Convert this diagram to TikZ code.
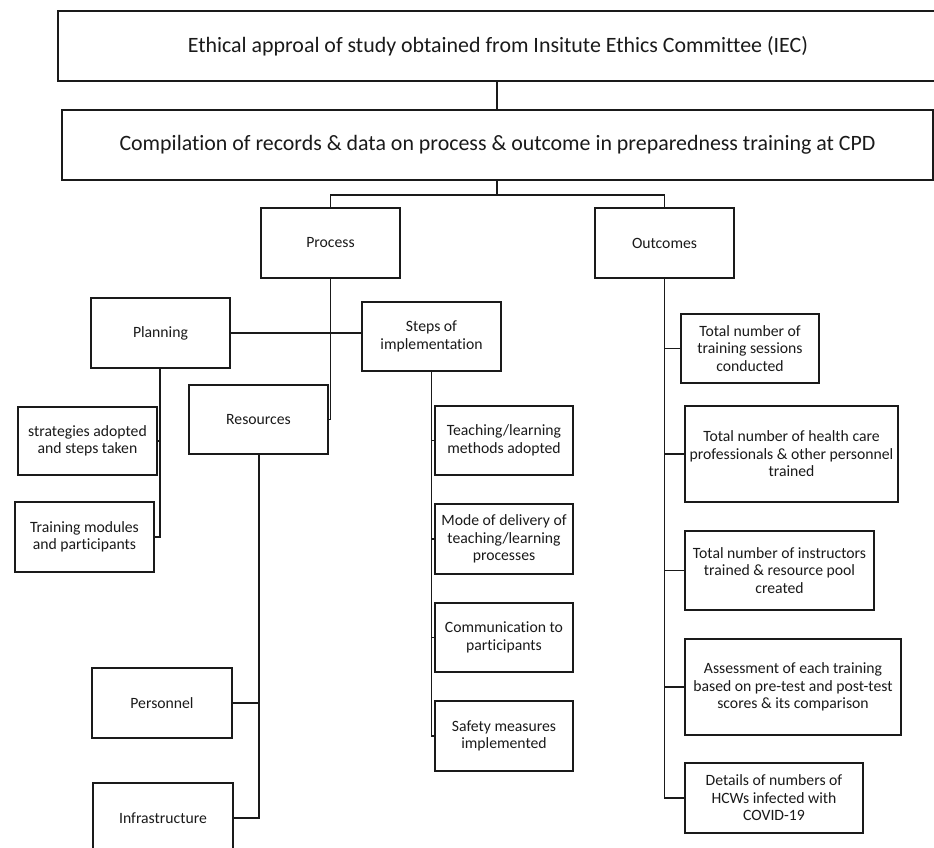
\documentclass[tikz,border=0pt]{standalone}
\usepackage{fontspec}
\setmainfont[Ligatures=NoCommon]{Carlito}
\definecolor{ink}{HTML}{1A1A1A}
\tikzset{
  box/.style={draw=ink, line width=1.7pt, inner sep=0pt, outer sep=0pt, align=center,
    text=ink, font=\fontsize{15.7}{17.5}\selectfont},
  bigbox/.style={box, font=\fontsize{21.9}{26}\selectfont},
  conn/.style={draw=ink, line width=1.4pt},
}
\newcommand\bx[7][box]{\node[#1, minimum width={(#5-#3)*1pt}, minimum height={(#6-#4)*1pt}] (#2) at ({(#3+#5)/2},{(#4+#6)/2}) {#7};}
\begin{document}
\begin{tikzpicture}[x=1pt,y=-1pt]
\useasboundingbox (0,0) rectangle (934,847);
\clip (0,0) rectangle (934,847);
\fill[white] (0,0) rectangle (934,847);
\bx[bigbox]{top}{58}{11}{942}{81}{}
\node[text=ink, font=\fontsize{21.9}{26}\selectfont] (toptext) at (498,46) {Ethical approal of study obtained from Insitute Ethics Committee (IEC)};
\bx[bigbox]{comp}{62}{110}{933}{180}{Compilation of records \& data on process \& outcome in preparedness training at CPD}
\bx{process}{261}{208}{400}{278}{Process}
\bx{outcomes}{595}{208}{734}{278}{Outcomes}
\bx{planning}{91}{298}{230}{368}{Planning}
\bx{steps}{362}{302}{501}{371}{Steps of\\implementation}
\bx{resources}{189}{385}{328}{454}{Resources}
\bx{strategies}{18}{407}{157}{475}{strategies adopted\\and steps taken}
\bx{modules}{15}{502}{154}{572}{Training modules\\and participants}
\bx{personnel}{92}{668}{232}{738}{Personnel}
\bx{infra}{93}{783}{233}{853}{Infrastructure}
\bx{teaching}{435}{406}{573}{475}{Teaching/learning\\methods adopted}
\bx{mode}{435}{504}{573}{574}{Mode of delivery of\\teaching/learning\\processes}
\bx{comm}{435}{603}{573}{672}{Communication to\\participants}
\bx{safety}{435}{701}{573}{771}{Safety measures\\implemented}
\bx{sessions}{681}{314}{819}{383}{Total number of\\training sessions\\conducted}
\bx{health}{685}{406}{898}{502}{Total number of health care\\professionals \& other personnel\\trained}
\bx{instr}{685}{531}{874}{610}{Total number of instructors\\trained \& resource pool\\created}
\bx{assess}{685}{639}{901}{735}{Assessment of each training\\based on pre-test and post-test\\scores \& its comparison}
\bx{details}{685}{763}{863}{833}{Details of numbers of\\HCWs infected with\\COVID-19}
% connectors
\coordinate (bus) at (497,195);
\draw[conn] (497,81) -- (497,110);
\draw[conn] (497,180) -- (bus);
\draw[conn] (bus) -| (process.north);
\draw[conn] (bus) -| (outcomes.north);
\draw[conn] (process.south) |- (resources.east);
\draw[conn] (planning.east) -- (planning.east -| steps.west);
\coordinate (pl) at (160,368);
\draw[conn] (pl) |- (modules.east);
\draw[conn] (pl) |- (strategies.east);
\coordinate (rs) at (259,454);
\draw[conn] (rs) |- (infra.east);
\draw[conn] (rs) |- (personnel.east);
\draw[conn] (steps.south) |- (safety.west);
\draw[conn] (steps.south) |- (teaching.west);
\draw[conn] (steps.south) |- (mode.west);
\draw[conn] (steps.south) |- (comm.west);
\draw[conn] (outcomes.south) |- (details.west);
\draw[conn] (outcomes.south) |- (sessions.west);
\draw[conn] (outcomes.south) |- (health.west);
\draw[conn] (outcomes.south) |- (instr.west);
\draw[conn] (outcomes.south) |- (assess.west);
\end{tikzpicture}
\end{document}
